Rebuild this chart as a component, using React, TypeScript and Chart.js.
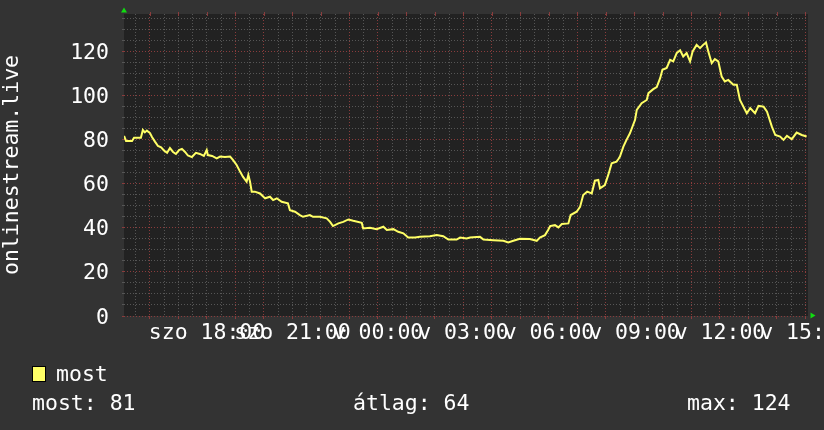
import React, { useEffect, useRef } from 'react';
import { Chart, registerables } from 'chart.js';

Chart.register(...registerables);

// ---- data (hours since Saturday 00:00, visitors online) ----
const TIME_HOURS = [
  15.09, 15.16, 15.37, 15.44, 15.68, 15.75, 15.82, 15.89, 16.0, 16.07, 16.18, 16.28, 16.39, 16.49, 16.6, 16.7,
  16.81, 16.91, 17.02, 17.12, 17.23, 17.33, 17.47, 17.61, 17.75, 17.89, 17.99, 18.03, 18.18, 18.34, 18.46, 18.63,
  18.81, 18.91, 19.04, 19.16, 19.26, 19.39, 19.45, 19.51, 19.57, 19.68, 19.86, 19.98, 20.04, 20.21, 20.32, 20.45,
  20.62, 20.84, 20.91, 21.09, 21.26, 21.37, 21.61, 21.72, 21.96, 22.2, 22.32, 22.42, 22.61, 22.78, 22.96, 23.13,
  23.43, 23.48, 23.72, 23.95, 24.19, 24.31, 24.54, 24.71, 24.89, 25.06, 25.3, 25.47, 25.82, 26.06, 26.29, 26.47,
  26.76, 26.88, 27.11, 27.23, 27.58, 27.7, 28.05, 28.4, 28.57, 28.75, 28.98, 29.33, 29.57, 29.68, 29.86, 29.97,
  30.04, 30.21, 30.33, 30.45, 30.68, 30.76, 30.97, 31.09, 31.2, 31.34, 31.5, 31.61, 31.73, 31.79, 31.96, 32.08,
  32.2, 32.37, 32.43, 32.49, 32.61, 32.72, 32.84, 33.02, 33.08, 33.25, 33.43, 33.49, 33.66, 33.78, 33.9, 33.98,
  34.13, 34.25, 34.36, 34.48, 34.6, 34.71, 34.83, 34.95, 35.04, 35.18, 35.3, 35.41, 35.51, 35.59, 35.71, 35.82,
  35.94, 36.06, 36.17, 36.29, 36.47, 36.59, 36.7, 36.94, 37.06, 37.23, 37.35, 37.53, 37.65, 37.82, 37.94, 38.11,
  38.23, 38.35, 38.52, 38.69, 38.87, 39.04,
];
const VISITORS = [
  81.7, 79.4, 79.4, 80.9, 80.9, 84.4, 83.3, 84.1, 83.0, 81.2, 79.0, 77.1, 76.5, 75.1, 74.0, 76.2,
  74.4, 73.5, 75.3, 75.8, 74.4, 72.8, 72.1, 74.0, 73.5, 72.6, 75.3, 73.0, 72.6, 71.5, 72.3, 72.1,
  72.3, 70.8, 68.5, 65.5, 63.2, 60.9, 64.0, 60.9, 56.4, 56.4, 55.6, 54.1, 53.4, 54.1, 52.6, 53.4,
  51.8, 51.1, 48.0, 47.3, 45.8, 45.0, 45.8, 45.0, 45.0, 44.3, 42.7, 40.8, 42.0, 42.7, 43.8, 43.2,
  42.3, 39.7, 40.0, 39.4, 40.5, 39.0, 39.4, 38.2, 37.5, 35.6, 35.6, 35.9, 36.2, 36.7, 36.2, 34.7,
  34.7, 35.6, 35.2, 35.6, 35.9, 34.7, 34.4, 34.1, 33.4, 34.1, 35.0, 34.9, 34.1, 35.6, 36.7, 39.0,
  40.8, 41.2, 40.2, 41.7, 42.0, 45.8, 47.3, 49.5, 54.9, 56.4, 55.6, 61.4, 61.7, 57.9, 59.4, 64.0,
  69.3, 70.0, 71.1, 72.3, 76.8, 79.9, 82.9, 89.0, 93.5, 96.5, 98.0, 101.1, 102.9, 103.8, 107.9, 111.7,
  112.5, 116.2, 115.5, 119.3, 120.5, 117.7, 119.3, 115.5, 120.0, 123.0, 121.5, 123.0, 124.1, 120.0, 114.7, 116.5,
  115.5, 108.6, 106.4, 107.1, 104.9, 104.9, 98.0, 92.0, 94.3, 92.0, 95.3, 95.0, 92.7, 85.9, 82.1, 81.4,
  79.9, 81.7, 80.2, 83.2, 82.1, 81.4,
];

const X_LABEL_HOURS = [18, 21, 24, 27, 30, 33, 36, 39];
const X_LABELS = ['szo 18:00', 'szo 21:00', 'v 00:00', 'v 03:00', 'v 06:00', 'v 09:00', 'v 12:00', 'v 15:00'];
const Y_LABEL_VALUES = [0, 20, 40, 60, 80, 100, 120];
const MAJOR_X_HOURS = [16, 19, 20, 23, 24, 27, 28, 31, 32, 35, 36, 39];

const SERIES_NAME = 'most';
const AXIS_TITLE = 'onlinestream.live';
const STAT_LAST = 81;
const STAT_AVG = 64;
const STAT_MAX = 124;

const X_MIN = 15.088;
const X_MAX = 39.088;
const Y_MAX = 137;

// ---- styles ----
const FONT = { family: 'DejaVu Sans Mono', size: 21.5 };
const BG = '#333333';
const PLOT_BG = '#222222';
const MINOR = '#565656';
const MAJOR = '#8a3c3c';
const LINE = '#ffff66';
const TEXT = '#ffffff';

const isMajorX = (v: number) => MAJOR_X_HOURS.some((h) => Math.abs(h - v) < 1e-6);

const rrdPlugin = {
  id: 'rrdDecor',
  beforeDraw(chart: any) {
    const { ctx, chartArea: a, width, height } = chart;
    ctx.save();
    ctx.fillStyle = BG;
    ctx.fillRect(0, 0, width, height);
    ctx.fillStyle = PLOT_BG;
    ctx.fillRect(a.left, a.top, a.right - a.left, a.bottom - a.top);
    ctx.restore();
  },
  afterDraw(chart: any) {
    const { ctx, chartArea: a, scales } = chart;
    const xs = scales.x;
    const ys = scales.y;
    ctx.save();
    // hourly ticks at top edge
    ctx.strokeStyle = MAJOR;
    ctx.lineWidth = 1;
    for (let h = Math.ceil(X_MIN); h <= X_MAX; h++) {
      const px = Math.round(xs.getPixelForValue(h)) + 0.5;
      ctx.beginPath();
      ctx.moveTo(px, a.top - 2);
      ctx.lineTo(px, a.top + 2);
      ctx.stroke();
    }
    // green arrows
    ctx.fillStyle = '#11dd11';
    ctx.beginPath();
    ctx.moveTo(a.left - 3, a.top - 1.5);
    ctx.lineTo(a.left + 3, a.top - 1.5);
    ctx.lineTo(a.left, a.top - 6.5);
    ctx.closePath();
    ctx.fill();
    ctx.beginPath();
    ctx.moveTo(a.right + 2.5, a.bottom - 3.5);
    ctx.lineTo(a.right + 2.5, a.bottom + 2.5);
    ctx.lineTo(a.right + 7.5, a.bottom - 0.5);
    ctx.closePath();
    ctx.fill();

    ctx.font = `${FONT.size}px "${FONT.family}"`;
    ctx.textBaseline = 'middle';

    // y tick labels (placed on the library's y scale)
    ctx.fillStyle = TEXT;
    ctx.textAlign = 'right';
    for (const v of Y_LABEL_VALUES) {
      ctx.fillText(String(v), a.left - 15, ys.getPixelForValue(v) + 2);
    }

    // legend
    ctx.textAlign = 'left';
    ctx.fillStyle = LINE;
    ctx.fillRect(32.5, 366.5, 13, 15);
    ctx.strokeStyle = '#000000';
    ctx.strokeRect(32.5, 366.5, 13, 15);
    ctx.fillStyle = TEXT;
    ctx.fillText(SERIES_NAME, 56, 375);
    ctx.fillText(`most: ${STAT_LAST}`, 32, 404);
    ctx.fillText(`átlag: ${STAT_AVG}`, 353, 404);
    ctx.fillText(`max: ${STAT_MAX}`, 687, 404);
    ctx.restore();
  },
};

export default function App() {
  const ref = useRef<HTMLCanvasElement | null>(null);

  useEffect(() => {
    if (!ref.current) return;
    const points = TIME_HOURS.map((t, i) => ({ x: t, y: VISITORS[i] }));
    const chart = new Chart(ref.current, {
      type: 'line',
      data: {
        datasets: [
          {
            label: SERIES_NAME,
            data: points,
            borderColor: LINE,
            borderWidth: 2,
            pointRadius: 0,
            tension: 0,
            fill: false,
          },
        ],
      },
      plugins: [rrdPlugin],
      options: {
        responsive: false,
        animation: false,
        events: [],
        devicePixelRatio: 1,
        layout: { padding: { left: 0, top: 14, right: 16, bottom: 0 } },
        plugins: { legend: { display: false }, tooltip: { enabled: false }, title: { display: false } },
        scales: {
          x: {
            type: 'linear',
            min: X_MIN,
            max: X_MAX,
            afterBuildTicks: (scale: any) => {
              const t: any[] = [];
              for (let h = Math.ceil(X_MIN * 2) / 2; h <= X_MAX + 1e-9; h += 0.5) t.push({ value: h });
              scale.ticks = t;
            },
            afterFit: (scale: any) => {
              scale.height = 114;
              scale.paddingLeft = 0;
              scale.paddingRight = 0;
            },
            ticks: {
              autoSkip: false,
              maxRotation: 0,
              minRotation: 0,
              padding: 2,
              color: TEXT,
              font: FONT,
              callback: (v: any) => {
                const i = X_LABEL_HOURS.findIndex((h) => Math.abs(h - Number(v)) < 1e-6);
                return i >= 0 ? X_LABELS[i] : '';
              },
            },
            grid: {
              color: (c: any) => (c.tick && isMajorX(c.tick.value) ? MAJOR : MINOR),
              lineWidth: 1,
              drawTicks: true,
              tickLength: 3,
              tickColor: (c: any) => (c.tick && Number.isInteger(c.tick.value) ? MAJOR : 'rgba(0,0,0,0)'),
            },
            border: { display: false, dash: [1, 2] },
          },
          y: {
            type: 'linear',
            min: 0,
            max: Y_MAX,
            afterBuildTicks: (scale: any) => {
              const t: any[] = [];
              for (let v = 0; v <= Y_MAX; v += 5) t.push({ value: v });
              scale.ticks = t;
            },
            afterFit: (scale: any) => {
              scale.width = 124;
              scale.paddingTop = 0;
              scale.paddingBottom = 0;
            },
            ticks: {
              display: false,
              autoSkip: false,
            },
            grid: {
              color: (c: any) => (c.tick && c.tick.value % 20 === 0 ? MAJOR : MINOR),
              lineWidth: 1,
              drawTicks: true,
              tickLength: 2,
              tickColor: (c: any) => (c.tick && c.tick.value % 20 === 0 ? MAJOR : MINOR),
            },
            border: { display: false, dash: [1, 2] },
            title: {
              display: true,
              text: AXIS_TITLE,
              color: TEXT,
              font: FONT,
              padding: 0,
            },
          },
        },
      } as any,
    });
    return () => chart.destroy();
  }, []);

  return (
    <div style={{ position: 'fixed', left: 0, top: 0, width: 824, height: 430, background: BG }}>
      <canvas ref={ref} width={824} height={430} style={{ display: 'block', width: 824, height: 430 }} />
    </div>
  );
}
